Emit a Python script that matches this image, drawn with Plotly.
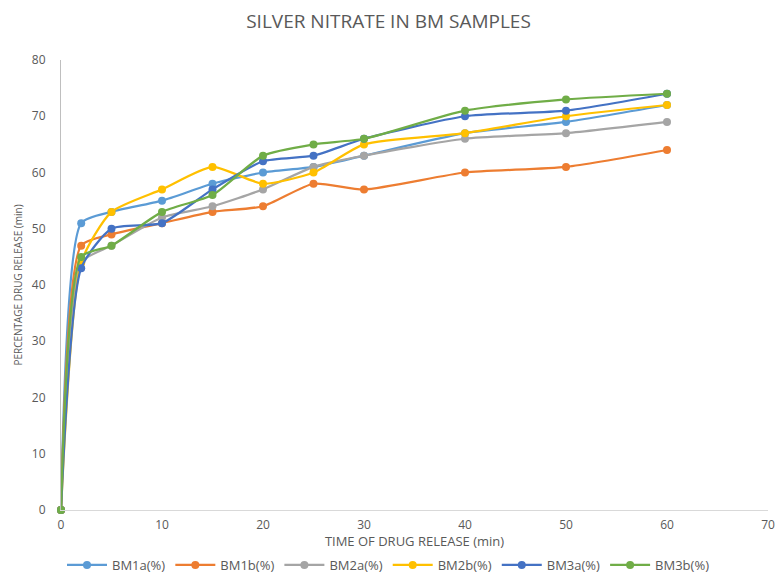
import plotly.graph_objects as go

time_min = [0, 2, 5, 10, 15, 20, 25, 30, 40, 50, 60]
series_names = ["BM1a(%)", "BM1b(%)", "BM2a(%)", "BM2b(%)", "BM3a(%)", "BM3b(%)"]
bm1a = [0, 51, 53, 55, 58, 60, 61, 63, 67, 69, 72]
bm1b = [0, 47, 49, 51, 53, 54, 58, 57, 60, 61, 64]
bm2a = [0, 44, 47, 52, 54, 57, 61, 63, 66, 67, 69]
bm2b = [0, 44, 53, 57, 61, 58, 60, 65, 67, 70, 72]
bm3a = [0, 43, 50, 51, 57, 62, 63, 66, 70, 71, 74]
bm3b = [0, 45, 47, 53, 56, 63, 65, 66, 71, 73, 74]
colors = ["#5B9BD5", "#ED7D31", "#A5A5A5", "#FFC000", "#4472C4", "#70AD47"]

fig = go.Figure()
for name, vals, col in zip(series_names, [bm1a, bm1b, bm2a, bm2b, bm3a, bm3b], colors):
    fig.add_trace(go.Scatter(
        x=time_min, y=vals, name=name, mode="lines+markers",
        line=dict(color=col, width=2.25, shape="spline", smoothing=0.6),
        marker=dict(color=col, size=8),
        cliponaxis=False,
    ))

font_family = "Open Sans, DejaVu Sans, sans-serif"
fig.update_layout(
    width=777, height=577,
    margin=dict(l=61, r=9, t=60, b=67, autoexpand=False),
    paper_bgcolor="white", plot_bgcolor="white",
    font=dict(family=font_family, color="#595959", size=12),
    title=dict(text="SILVER NITRATE IN BM SAMPLES", x=0.5, xanchor="center",
               y=1 - 21 / 577, yanchor="middle",
               font=dict(size=19, color="#595959", family=font_family)),
    showlegend=True,
    legend=dict(orientation="h", x=0.5, xanchor="center", xref="container",
                y=1 - 565 / 577, yanchor="middle", yref="container",
                font=dict(size=13, color="#595959"), itemwidth=40,
                traceorder="normal"),
    xaxis=dict(range=[0, 70], dtick=10, showgrid=False, zeroline=False,
               showline=True, linecolor="#D9D9D9", linewidth=1,
               ticks="", ticklabelstandoff=4, tickfont=dict(size=12, color="#595959"),
               title=dict(text="TIME OF DRUG RELEASE (min)", standoff=17,
                          font=dict(size=13, color="#595959"))),
    yaxis=dict(range=[0, 80], dtick=10, showgrid=False, zeroline=False,
               showline=True, linecolor="#BFBFBF", linewidth=1,
               ticks="", ticklabelstandoff=12, tickfont=dict(size=12, color="#595959"),
               title=dict(text="PERCENTAGE DRUG RELEASE (min)", standoff=7,
                          font=dict(size=10, color="#595959"))),
)

fig.write_html("out.html")
